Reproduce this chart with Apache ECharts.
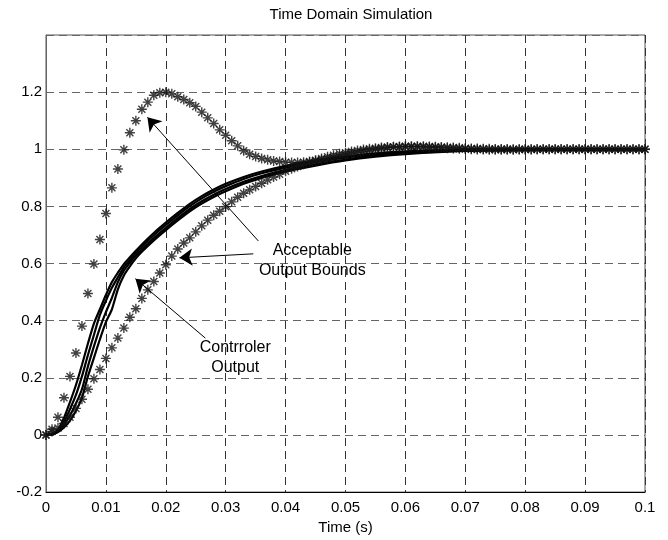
<!DOCTYPE html>
<html>
<head>
<meta charset="utf-8">
<script src="https://cdn.jsdelivr.net/npm/echarts@6/dist/echarts.min.js"></script>
<style>
  html, body { margin: 0; padding: 0; background: #fff; }
  #chart { width: 668px; height: 540px; }
</style>
</head>
<body>
<div id="chart"></div>
<script>
// Sample times (s) of the bound envelopes
const tBound = [
  0, 0.001, 0.002, 0.003, 0.004, 0.005, 0.006, 0.007, 0.008, 0.009,
  0.010, 0.011, 0.012, 0.013, 0.014, 0.015, 0.016, 0.017, 0.018, 0.019,
  0.020, 0.021, 0.022, 0.023, 0.024, 0.025, 0.026, 0.027, 0.028, 0.029,
  0.030, 0.031, 0.032, 0.033, 0.034, 0.035, 0.036, 0.037, 0.038, 0.039,
  0.040, 0.041, 0.042, 0.043, 0.044, 0.045, 0.046, 0.047, 0.048, 0.049,
  0.050, 0.051, 0.052, 0.053, 0.054, 0.055, 0.056, 0.057, 0.058, 0.059,
  0.060, 0.061, 0.062, 0.063, 0.064, 0.065, 0.066, 0.067, 0.068, 0.069,
  0.070, 0.071, 0.072, 0.073, 0.074, 0.075, 0.076, 0.077, 0.078, 0.079,
  0.080, 0.081, 0.082, 0.083, 0.084, 0.085, 0.086, 0.087, 0.088, 0.089,
  0.090, 0.091, 0.092, 0.093, 0.094, 0.095, 0.096, 0.097, 0.098, 0.099,
  0.100
];

// Upper acceptable bound (fast, 20 % overshoot)
const upperBound = [
  0, 0.020, 0.062, 0.130, 0.205, 0.287, 0.381, 0.495, 0.598, 0.684,
  0.775, 0.865, 0.931, 0.998, 1.058, 1.100, 1.140, 1.165, 1.189, 1.198,
  1.200, 1.194, 1.184, 1.174, 1.163, 1.150, 1.130, 1.110, 1.090, 1.068,
  1.049, 1.030, 1.012, 0.995, 0.983, 0.975, 0.968, 0.963, 0.959, 0.957,
  0.955, 0.954, 0.954, 0.955, 0.957, 0.960, 0.963, 0.967, 0.971, 0.976,
  0.981, 0.985, 0.989, 0.993, 0.997, 1.000, 1.003, 1.005, 1.007, 1.008,
  1.009, 1.009, 1.009, 1.008, 1.007, 1.006, 1.005, 1.004, 1.003, 1.002,
  1.001, 1.000, 0.999, 0.999, 0.998, 0.998, 0.998, 0.998, 0.998, 0.999,
  0.999, 0.999, 1.000, 1.000, 1.000, 1.000, 1.000, 1.000, 1.000, 1.000,
  1.000, 1.000, 1.000, 1.000, 1.000, 1.000, 1.000, 1.000, 1.000, 1.000,
  1.000
];

// Lower acceptable bound (slow rise)
const lowerBound = [
  0, 0.012, 0.024, 0.040, 0.062, 0.093, 0.125, 0.160, 0.197, 0.229,
  0.268, 0.305, 0.339, 0.374, 0.412, 0.442, 0.478, 0.508, 0.537, 0.567,
  0.596, 0.626, 0.651, 0.672, 0.690, 0.711, 0.732, 0.752, 0.769, 0.783,
  0.799, 0.816, 0.832, 0.846, 0.858, 0.870, 0.881, 0.893, 0.903, 0.913,
  0.923, 0.932, 0.940, 0.948, 0.955, 0.962, 0.968, 0.974, 0.979, 0.984,
  0.988, 0.992, 0.996, 0.999, 1.002, 1.004, 1.006, 1.008, 1.009, 1.010,
  1.011, 1.011, 1.011, 1.011, 1.010, 1.009, 1.008, 1.007, 1.006, 1.005,
  1.004, 1.003, 1.003, 1.002, 1.002, 1.001, 1.001, 1.001, 1.000, 1.000,
  1.000, 1.000, 1.000, 1.000, 1.000, 1.000, 1.000, 1.000, 1.000, 1.000,
  1.000, 1.000, 1.000, 1.000, 1.000, 1.000, 1.000, 1.000, 1.000, 1.000,
  1.000
];

// Sample times (s) of the controller responses
const tCtrl = [
  0, 0.001, 0.002, 0.003, 0.004, 0.005, 0.006, 0.007, 0.008, 0.009,
  0.010, 0.011, 0.012, 0.013, 0.014, 0.015, 0.016, 0.018, 0.020, 0.022,
  0.024, 0.026, 0.028, 0.030, 0.033, 0.036, 0.040, 0.045, 0.050, 0.055,
  0.060, 0.070, 0.080, 0.090, 0.100
];

// Controller output for four plant variations
const ctrlA = [
  0, 0.004, 0.018, 0.060, 0.115, 0.175, 0.245, 0.320, 0.390, 0.440,
  0.490, 0.535, 0.568, 0.598, 0.622, 0.645, 0.667, 0.707, 0.743, 0.777,
  0.809, 0.836, 0.859, 0.879, 0.903, 0.922, 0.942, 0.961, 0.975, 0.986,
  0.993, 0.998, 1.000, 1.000, 1.000
];
const ctrlB = [
  0, 0.003, 0.015, 0.045, 0.090, 0.140, 0.205, 0.280, 0.350, 0.420,
  0.470, 0.515, 0.552, 0.587, 0.612, 0.637, 0.659, 0.699, 0.735, 0.769,
  0.801, 0.828, 0.851, 0.871, 0.896, 0.916, 0.936, 0.956, 0.971, 0.982,
  0.990, 0.997, 0.999, 1.000, 1.000
];
const ctrlC = [
  0, 0.002, 0.012, 0.035, 0.068, 0.110, 0.160, 0.240, 0.310, 0.375,
  0.430, 0.480, 0.535, 0.575, 0.603, 0.628, 0.650, 0.689, 0.725, 0.759,
  0.791, 0.818, 0.841, 0.861, 0.886, 0.906, 0.928, 0.948, 0.964, 0.977,
  0.986, 0.995, 0.999, 1.000, 1.000
];
const ctrlD = [
  0, 0.002, 0.010, 0.026, 0.050, 0.085, 0.130, 0.205, 0.270, 0.335,
  0.395, 0.440, 0.510, 0.558, 0.590, 0.618, 0.641, 0.681, 0.717, 0.751,
  0.783, 0.810, 0.833, 0.853, 0.879, 0.900, 0.922, 0.943, 0.961, 0.974,
  0.983, 0.994, 0.998, 0.999, 1.000
];

// Axis tick values
const xTicks = [0, 0.01, 0.02, 0.03, 0.04, 0.05, 0.06, 0.07, 0.08, 0.09, 0.1];
const yTicks = [-0.2, 0, 0.2, 0.4, 0.6, 0.8, 1, 1.2];

const FONT = '"Liberation Sans", Arial, Helvetica, sans-serif';

// Asterisk marker: vertical, horizontal and two diagonal strokes
const STAR = 'path://M8.6 0L11.4 0L11.4 20L8.6 20Z M0 8.6L20 8.6L20 11.4L0 11.4Z ' +
  'M4 2L18 16L16 18L2 4Z M16 2L18 4L4 18L2 16Z';

const pairs = (ts, ys) => ys.map((v, i) => [ts[i], v]);

const ctrlLine = (name, ys) => ({
  name: name,
  type: 'line',
  data: pairs(tCtrl, ys),
  showSymbol: false,
  symbol: 'none',
  smooth: 0.25,
  lineStyle: { color: '#000', width: 2.2 },
  z: 3
});

const chart = echarts.init(document.getElementById('chart'), null, { renderer: 'canvas' });

chart.setOption({
  animation: false,
  backgroundColor: '#fff',
  textStyle: { fontFamily: FONT },
  title: {
    text: 'Time Domain Simulation',
    left: 346,
    textAlign: 'center',
    top: 2,
    textStyle: { fontFamily: FONT, fontSize: 15, fontWeight: 'normal', color: '#000' }
  },
  grid: {
    left: 46, right: 23, top: 35, bottom: 44,
    show: true, borderColor: '#555', borderWidth: 1
  },
  xAxis: {
    type: 'value',
    min: xTicks[0], max: xTicks[xTicks.length - 1], interval: 0.01,
    name: 'Time (s)',
    nameLocation: 'middle',
    nameGap: 15,
    nameTextStyle: { fontFamily: FONT, fontSize: 15, color: '#000' },
    axisLine: { onZero: false, lineStyle: { color: '#000', width: 1 } },
    axisTick: { show: false },
    axisLabel: {
      fontFamily: FONT, fontSize: 15, color: '#000', margin: 8,
      formatter: v => String(+v.toFixed(2))
    },
    splitLine: {
      show: true,
      lineStyle: { color: '#333', type: [8, 5], width: 1 }
    }
  },
  yAxis: {
    type: 'value',
    min: -0.2, max: 1.4, interval: 0.2,
    axisLine: { show: true, onZero: false, lineStyle: { color: '#666', width: 1 } },
    axisTick: { show: false },
    axisLabel: {
      fontFamily: FONT, fontSize: 15, color: '#000', margin: 4,
      showMaxLabel: false,
      formatter: v => (v > 1.3 ? '' : String(+v.toFixed(1)))
    },
    splitLine: {
      show: true,
      lineStyle: { color: '#666', type: [8, 5], width: 1 }
    }
  },
  series: [
    ctrlLine('Controller A', ctrlA),
    ctrlLine('Controller B', ctrlB),
    ctrlLine('Controller C', ctrlC),
    ctrlLine('Controller D', ctrlD),
    {
      name: 'Upper bound',
      type: 'scatter',
      data: pairs(tBound, upperBound),
      symbol: STAR,
      symbolSize: 10,
      itemStyle: { color: '#111' },
      z: 4,
      markLine: {
        silent: true,
        symbol: ['none', 'arrow'],
        symbolSize: 13,
        label: { show: false },
        lineStyle: { color: '#000', width: 1, type: 'solid' },
        data: [
          [{ coord: [0.03545, 0.679] }, { coord: [0.01693, 1.112] }],
          [{ coord: [0.0346, 0.634] }, { coord: [0.02227, 0.620] }],
          [{ coord: [0.0266, 0.339] }, { coord: [0.01493, 0.547] }]
        ]
      },
      markPoint: {
        silent: true,
        symbol: 'circle',
        symbolSize: 0,
        label: {
          show: true,
          position: 'inside',
          fontFamily: FONT, fontSize: 16, color: '#000',
          lineHeight: 20, align: 'center', verticalAlign: 'middle'
        },
        data: [
          { coord: [0.04445, 0.609], value: 'Acceptable\nOutput Bounds',
            label: { formatter: 'Acceptable\nOutput Bounds' } },
          { coord: [0.0316, 0.270], value: 'Contrroler\nOutput',
            label: { formatter: 'Contrroler\nOutput' } }
        ]
      }
    },
    {
      name: 'Lower bound',
      type: 'scatter',
      data: pairs(tBound, lowerBound),
      symbol: STAR,
      symbolSize: 10,
      itemStyle: { color: '#111' },
      z: 4
    }
  ]
});
</script>
</body>
</html>
